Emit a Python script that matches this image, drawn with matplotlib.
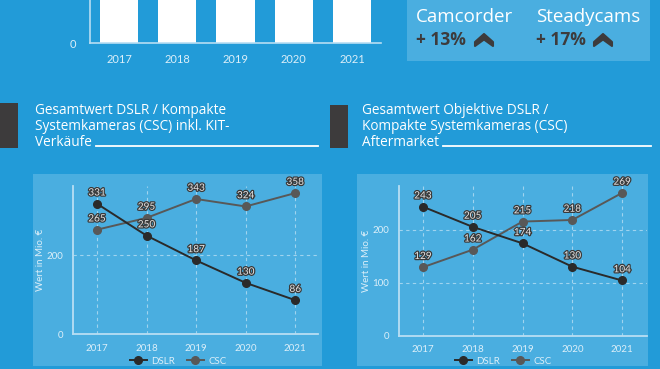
import matplotlib
matplotlib.use("Agg")
import matplotlib.pyplot as plt
import matplotlib.patheffects as pe
from matplotlib.patches import Rectangle, Polygon
from matplotlib.lines import Line2D

# ---------------- data ----------------
years = ["2017", "2018", "2019", "2020", "2021"]
top_values = [500, 500, 500, 500, 500]  # bars run off the top of the crop

kit_dslr = [331, 250, 187, 130, 86]
kit_csc = [265, 295, 343, 324, 358]
lens_dslr = [243, 205, 174, 130, 104]
lens_csc = [129, 162, 215, 218, 269]

growth_labels = ["Camcorder", "Steadycams"]
growth_values = ["+ 13%", "+ 17%"]

title_left = ["Gesamtwert DSLR / Kompakte", "Systemkameras (CSC) inkl. KIT-", "Verkäufe"]
title_right = ["Gesamtwert Objektive DSLR /", "Kompakte Systemkameras (CSC)", "Aftermarket"]

# ---------------- style ----------------
W, H = 660, 369
BG = "#229bd8"
PANEL = "#4aaee0"
DARK = "#3d3b3c"
LIGHT = "#dceff9"
AX = "#b8def3"
DSLR_C = "#2a2a2a"
CSC_C = "#585858"
TITLE_FONT = ["Open Sans", "DejaVu Sans"]
TICK_FONT = ["Lato", "DejaVu Sans"]

fig = plt.figure(figsize=(W / 100, H / 100), dpi=100)
fig.patch.set_facecolor(BG)


def fx(x):
    return x / W


def fy(y):
    return 1 - y / H


def rect(x0, y0, x1, y1, color, z=-5):
    fig.patches.append(Rectangle((fx(x0), fy(y1)), fx(x1 - x0), (y1 - y0) / H,
                                 transform=fig.transFigure, facecolor=color,
                                 edgecolor="none", zorder=z))


def axes_px(x0, y0, x1, y1):
    ax = fig.add_axes([fx(x0), fy(y1), fx(x1 - x0), (y1 - y0) / H])
    ax.set_zorder(2)
    return ax


# ---------------- top bar chart ----------------
axb = axes_px(90, -2, 381, 43)
axb.set_facecolor("none")
xs = list(range(len(years)))
axb.bar(xs, top_values, width=0.655, color="white", zorder=2)
axb.set_xlim(-0.5, 4.5)
axb.set_ylim(0, 60)
for s in ["top", "right"]:
    axb.spines[s].set_visible(False)
for s in ["left", "bottom"]:
    axb.spines[s].set_color(AX)
    axb.spines[s].set_linewidth(1.2)
axb.set_xticks(xs)
axb.set_xticklabels(years, fontsize=8, color=LIGHT, family=TICK_FONT)
axb.set_yticks([0])
axb.set_yticklabels(["0"], fontsize=8, color=LIGHT, family=TICK_FONT)
axb.tick_params(length=0, pad=8)
axb.tick_params(axis="y", pad=10)

# ---------------- top-right box ----------------
rect(407, -1, 650, 61, PANEL)
for lbl, val, x in zip(growth_labels, growth_values, [416, 536]):
    fig.text(fx(x), fy(17), lbl, fontsize=13.5, color="white", family=TITLE_FONT,
             va="center", ha="left")
    fig.text(fx(x), fy(40), val, fontsize=12.5, color=DARK, family=TITLE_FONT,
             fontweight="bold", va="center", ha="left")
cx_list = [484, 603]
for cx in cx_list:
    pts = [(cx - 9, 42), (cx, 34), (cx + 9, 42), (cx + 9, 46), (cx, 39.5), (cx - 9, 46)]
    fig.patches.append(Polygon([(fx(a), fy(b)) for a, b in pts], closed=True,
                               transform=fig.transFigure, facecolor=DARK,
                               edgecolor=DARK, linewidth=1.5, joinstyle="round", zorder=3))

# ---------------- section titles ----------------
rect(0, 103, 18, 148, DARK)
rect(330, 105, 348, 148, DARK)
for lines, x in [(title_left, 35), (title_right, 362)]:
    for i, ln in enumerate(lines):
        fig.text(fx(x), fy(111 + 15.5 * i), ln, fontsize=9.8, color="white",
                 family=TITLE_FONT, va="center", ha="left")
fig.lines.append(Line2D([fx(96), fx(318)], [fy(146), fy(146)], transform=fig.transFigure,
                        color="white", linewidth=1.3))
fig.lines.append(Line2D([fx(443), fx(651)], [fy(146), fy(146)], transform=fig.transFigure,
                        color="white", linewidth=1.3))

# ---------------- line chart panels ----------------
rect(33, 174, 322, 366, PANEL)
rect(357, 174, 648, 366, PANEL)


def line_chart(box, dslr, csc, lims, yticks, legend_center):
    ax = axes_px(*box)
    ax.set_facecolor("none")
    ax.set_xlim(*lims[0])
    ax.set_ylim(*lims[1])
    for s in ["top", "right"]:
        ax.spines[s].set_visible(False)
    for s in ["left", "bottom"]:
        ax.spines[s].set_color(AX)
        ax.spines[s].set_linewidth(1.3)
    ax.set_xticks(xs)
    ax.set_xticklabels(years, fontsize=7, color=LIGHT, family=TICK_FONT)
    ax.set_yticks(yticks)
    ax.set_yticklabels([str(v) for v in yticks], fontsize=7, color=LIGHT, family=TICK_FONT)
    ax.tick_params(length=0, pad=7)
    ax.grid(True, color="#9fd3ef", linestyle=(0, (3, 3)), linewidth=0.8)
    ax.set_axisbelow(True)
    ax.set_ylabel("Wert in Mio. €", fontsize=7, color=LIGHT, family=TICK_FONT, labelpad=1)
    l1, = ax.plot(xs, dslr, color=DSLR_C, marker="o", markersize=5.5, linewidth=1.4,
                  label="DSLR", zorder=4)
    l2, = ax.plot(xs, csc, color=CSC_C, marker="o", markersize=5.5, linewidth=1.4,
                  label="CSC", zorder=3)
    for series in (dslr, csc):
        for x, v in zip(xs, series):
            ax.annotate(str(v), (x, v), xytext=(0, 4.5), textcoords="offset points",
                        ha="center", va="bottom", fontsize=7.2, color="#e6e6e6",
                        family=TICK_FONT, zorder=6,
                        path_effects=[pe.withStroke(linewidth=1.8, foreground="#3a3a3a")])
    leg = fig.legend(handles=[l1, l2], loc="center",
                     bbox_to_anchor=(fx(legend_center), fy(361)), ncol=2, frameon=False,
                     fontsize=7, handlelength=1.8, columnspacing=1.2, handletextpad=0.4,
                     borderaxespad=0, borderpad=0)
    for t in leg.get_texts():
        t.set_color(LIGHT)
        t.set_family(TICK_FONT)
    return ax


line_chart((72.7, 186, 318, 334), kit_dslr, kit_csc,
           ((-0.49, 4.46), (0, 376)), [0, 200], 178)
line_chart((399, 186, 647, 335.7), lens_dslr, lens_csc,
           ((-0.48, 4.5), (0, 282)), [0, 100, 200], 503)

fig.savefig("out.png", dpi=100, facecolor=BG)
